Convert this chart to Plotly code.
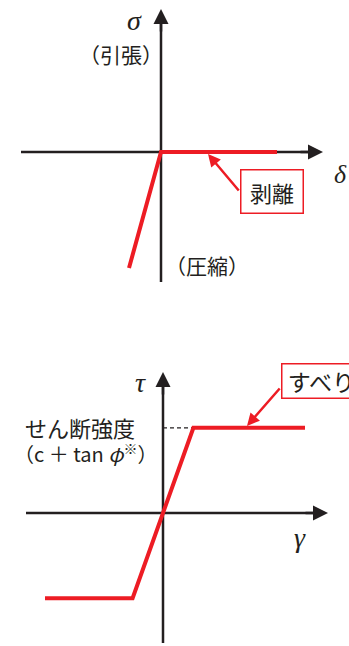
import plotly.graph_objects as go

# 上段: 引張・圧縮 (δ-σ), 1 unit = 40 px
delta = [-0.8, 0.0, 2.9]
sigma = [-2.9, 0.0, 0.0]

# 下段: せん断 (γ-τ)
gamma = [-2.95, -0.76, 0.76, 3.55]
tau = [-2.13, -2.13, 2.13, 2.13]

# axis extents [start, tip]
top_h = [-3.5, 4.05]
top_v = [-3.25, 3.575]
bot_h = [-3.425, 4.125]
bot_v = [-3.25, 3.525]

RED = '#ED1C24'
INK = '#231f20'
JP = 'Noto Sans CJK JP'
GREEK = 'Liberation Serif'

fig = go.Figure()
anns = []

def axis(xa, ya, hx, vy):
    # axis lines as traces so the red curves sit on top of them
    fig.add_trace(go.Scatter(x=[hx[0], hx[1] - 0.2], y=[0, 0], mode='lines', xaxis=xa, yaxis=ya,
                             line=dict(color=INK, width=2.5), showlegend=False, hoverinfo='skip'))
    fig.add_trace(go.Scatter(x=[0, 0], y=[vy[0], vy[1] - 0.2], mode='lines', xaxis=xa, yaxis=ya,
                             line=dict(color=INK, width=2.5), showlegend=False, hoverinfo='skip'))
    # arrowheads
    for x0, y0, x1, y1 in [(hx[1] - 0.6, 0, hx[1], 0), (0, vy[1] - 0.6, 0, vy[1])]:
        anns.append(dict(xref=xa, yref=ya, axref=xa, ayref=ya, x=x1, y=y1, ax=x0, ay=y0,
                         text='', showarrow=True, arrowhead=2, arrowsize=1.2, arrowwidth=2.5,
                         arrowcolor=INK, standoff=0, startstandoff=0))

axis('x', 'y', top_h, top_v)
axis('x2', 'y2', bot_h, bot_v)

fig.add_trace(go.Scatter(x=delta, y=sigma, mode='lines', xaxis='x', yaxis='y',
                         line=dict(color=RED, width=4), showlegend=False, hoverinfo='skip'))
# dashed guide to the shear strength level
fig.add_trace(go.Scatter(x=[0, gamma[2]], y=[tau[2], tau[2]], mode='lines', xaxis='x2', yaxis='y2',
                         line=dict(color=INK, width=1.3, dash='4px,3px'), showlegend=False, hoverinfo='skip'))
fig.add_trace(go.Scatter(x=gamma, y=tau, mode='lines', xaxis='x2', yaxis='y2',
                         line=dict(color=RED, width=4), showlegend=False, hoverinfo='skip'))

def label(xr, yr, x, y, text, size, family=JP, **kw):
    anns.append(dict(xref=xr, yref=yr, x=x, y=y, text=text, showarrow=False,
                     font=dict(family=family, size=size, color=INK), **kw))

label('x', 'y', -0.675, 3.3, '<i>σ</i>', 28, GREEK)
label('x', 'y', -0.99, 2.45, '（引張）', 21)
label('x', 'y', 4.475, -0.56, '<i>δ</i>', 26, GREEK)
label('x', 'y', 1.14, -2.825, '（圧縮）', 21)

label('x2', 'y2', -0.575, 3.27, '<i>τ</i>', 28, GREEK)
label('x2', 'y2', -2.075, 2.14, 'せん断強度', 22)
label('x2', 'y2', -1.95, 1.51, '（c ＋ tan <i>φ</i><sup>※</sup>）', 20)
label('x2', 'y2', 3.425, -0.6, '<i>γ</i>', 28, GREEK)

# callout boxes
anns.append(dict(xref='x', yref='y', x=2.775, y=-0.975, text='剥離', showarrow=False,
                 font=dict(family=JP, size=22, color=INK), bgcolor='white',
                 bordercolor=RED, borderwidth=1.5, borderpad=0, width=61, height=42))
anns.append(dict(xref='x2', yref='y2', x=2.95, y=3.31, xanchor='left', text=' すべり', showarrow=False,
                 font=dict(family=JP, size=23, color=INK), bgcolor='white', align='left',
                 bordercolor=RED, borderwidth=1.5, borderpad=0, width=90, height=33))

# callout arrows
anns.append(dict(xref='x', yref='y', axref='x', ayref='y', x=1.175, y=-0.05, ax=1.975, ay=-1.0,
                 text='', showarrow=True, arrowhead=2, arrowsize=1.0, arrowwidth=2.5,
                 arrowcolor=RED, standoff=0))
anns.append(dict(xref='x2', yref='y2', axref='x2', ayref='y2', x=2.1, y=2.175, ax=2.95, ay=3.15,
                 text='', showarrow=True, arrowhead=2, arrowsize=1.0, arrowwidth=2.5,
                 arrowcolor=RED, standoff=0))

split = 346 / 646
hidden = dict(visible=False, showgrid=False, zeroline=False)
fig.update_layout(
    width=349, height=646,
    margin=dict(l=0, r=0, t=0, b=0),
    paper_bgcolor='white', plot_bgcolor='white',
    xaxis=dict(domain=[0, 1], range=[-4.025, 4.7], anchor='y', **hidden),
    yaxis=dict(domain=[split, 1], range=[-3.7, 3.8], anchor='x', **hidden),
    xaxis2=dict(domain=[0, 1], range=[-4.075, 4.65], anchor='y2', **hidden),
    yaxis2=dict(domain=[0, split], range=[-3.325, 5.325], anchor='x2', **hidden),
    annotations=anns,
)

fig.write_html("out.html", config={'displayModeBar': False},
               post_script="document.body.style.margin='0';")
